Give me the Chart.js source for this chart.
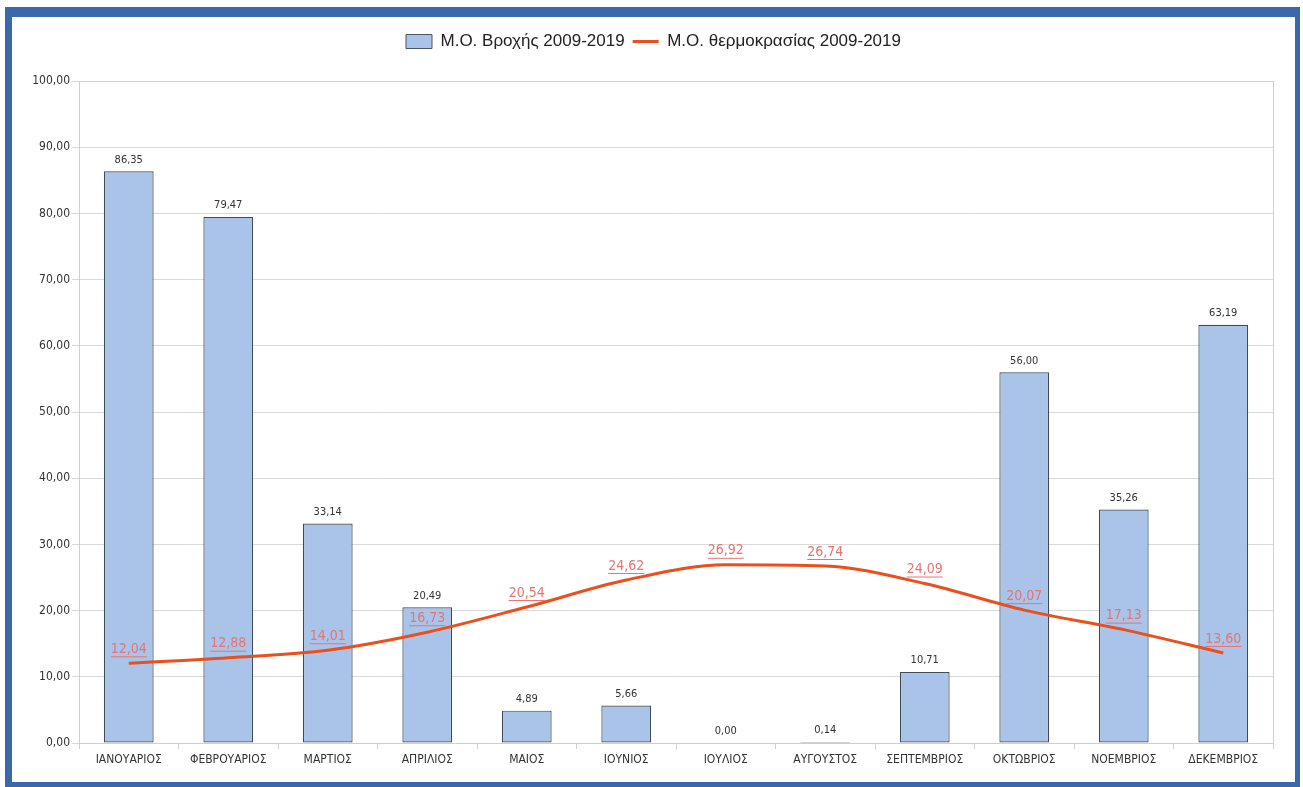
<!DOCTYPE html>
<html>
<head>
<meta charset="utf-8">
<script src="https://cdn.jsdelivr.net/npm/chart.js@4.4.1/dist/chart.umd.min.js"></script>
<style>
  html, body { margin: 0; padding: 0; background: #fff; }
  #frame {
    position: absolute; left: 5px; top: 7px;
    width: 1283px; height: 765px;
    border-style: solid; border-color: #3b68a9;
    border-width: 10px 5px 5px 7px;
    background: #fff;
  }
  #frame canvas { display: block; }
</style>
</head>
<body>
<div id="frame"><canvas id="mixChart" width="1283" height="765"></canvas></div>
<script>
  const months = ["ΙΑΝΟΥΑΡΙΟΣ", "ΦΕΒΡΟΥΑΡΙΟΣ", "ΜΑΡΤΙΟΣ", "ΑΠΡΙΛΙΟΣ", "ΜΑΙΟΣ", "ΙΟΥΝΙΟΣ",
                  "ΙΟΥΛΙΟΣ", "ΑΥΓΟΥΣΤΟΣ", "ΣΕΠΤΕΜΒΡΙΟΣ", "ΟΚΤΩΒΡΙΟΣ", "ΝΟΕΜΒΡΙΟΣ", "ΔΕΚΕΜΒΡΙΟΣ"];
  const rain = [86.35, 79.47, 33.14, 20.49, 4.89, 5.66, 0.00, 0.14, 10.71, 56.00, 35.26, 63.19];
  const temp = [12.04, 12.88, 14.01, 16.73, 20.54, 24.62, 26.92, 26.74, 24.09, 20.07, 17.13, 13.60];
  const rainLabel = "Μ.Ο. Βροχής 2009-2019";
  const tempLabel = "Μ.Ο. θερμοκρασίας 2009-2019";

  const narrow = '"Liberation Sans Narrow", "DejaVu Sans Condensed", sans-serif';

  function fmt(v){
    return v.toFixed(2).replace('.', ',');
  }

  // bigger gap under the legend
  const legendGap = {
    id: 'legendGap',
    beforeInit(chart){
      const fit = chart.legend.fit;
      chart.legend.fit = function(){
        fit.bind(chart.legend)();
        this.height += 21;
      };
    },
    afterLayout(chart){
      // center legend on the whole frame, not just left of the right padding
      chart.legend.left += 11;
      chart.legend.right += 11;
    }
  };

  // frame around plot area
  const plotBorder = {
    id: 'plotBorder',
    beforeDatasetsDraw(chart){
      const a = chart.chartArea, ctx = chart.ctx;
      ctx.save();
      ctx.strokeStyle = '#cfcfcf';
      ctx.lineWidth = 1;
      ctx.strokeRect(a.left + 0.5, a.top + 0.5, a.right - a.left, a.bottom - a.top);
      ctx.restore();
    }
  };

  // value labels
  const valueLabels = {
    id: 'valueLabels',
    afterDatasetsDraw(chart){
      const ctx = chart.ctx;
      ctx.save();
      ctx.textAlign = 'center';
      ctx.textBaseline = 'bottom';
      chart.data.datasets.forEach(function(ds, i){
        const meta = chart.getDatasetMeta(i);
        meta.data.forEach(function(el, j){
          const txt = fmt(ds.data[j]);
          if (ds.type === 'bar') {
            ctx.font = '11px ' + narrow;
            ctx.fillStyle = '#333';
            ctx.fillText(txt, el.x, el.y - 6);
          } else {
            ctx.font = '14px ' + narrow;
            ctx.fillStyle = '#e67474';
            const ty = el.y - 7;
            ctx.fillText(txt, el.x, ty);
            const w = ctx.measureText(txt).width;
            ctx.fillRect(el.x - w / 2, ty, w, 1);
          }
        });
      });
      ctx.restore();
    }
  };

  const ctx = document.getElementById('mixChart').getContext('2d');
  const chart = new Chart(ctx, {
    data: {
      labels: months,
      datasets: [{
        type: 'bar',
        label: rainLabel,
        data: rain,
        order: 1,
        backgroundColor: '#a9c4e8',
        borderColor: '#3f4a5a',
        borderWidth: 1.2,
        borderSkipped: false,
        categoryPercentage: 1,
        barPercentage: 0.5
      }, {
        type: 'line',
        label: tempLabel,
        data: temp,
        order: 0,
        borderColor: '#e8501e',
        backgroundColor: '#e8501e',
        borderWidth: 3,
        pointRadius: 0,
        cubicInterpolationMode: 'monotone'
      }]
    },
    options: {
      responsive: false,
      animation: false,
      layout: { padding: { left: 0, right: 22, top: 8, bottom: 0 } },
      plugins: {
        tooltip: { enabled: false },
        legend: {
          position: 'top',
          labels: {
            usePointStyle: true,
            pointStyleWidth: 26,
            boxHeight: 14,
            padding: 8,
            color: '#222',
            font: { size: 17, family: '"Liberation Sans", Arial, sans-serif' },
            sort: function(a, b){ return a.datasetIndex - b.datasetIndex; },
            generateLabels: function(chart){
              const items = Chart.defaults.plugins.legend.labels.generateLabels(chart);
              items.forEach(function(it){
                if (it.datasetIndex === 0) {
                  it.pointStyle = 'rect';
                  it.fillStyle = '#a9c4e8';
                  it.strokeStyle = '#4a5565';
                  it.lineWidth = 1;
                } else {
                  it.pointStyle = 'line';
                  it.strokeStyle = '#e8501e';
                  it.lineWidth = 3;
                }
              });
              return items;
            }
          }
        }
      },
      scales: {
        x: {
          offset: true,
          grid: { offset: true, drawOnChartArea: false, drawTicks: true, tickLength: 6, color: '#cfcfcf' },
          border: { color: '#cfcfcf' },
          ticks: { color: '#333', maxRotation: 0, autoSkip: false, padding: 4, font: { size: 12, family: narrow } },
          afterFit: function(scale){ scale.height = 39; }
        },
        y: {
          min: 0,
          max: 100,
          grid: { color: '#d9d9d9', tickLength: 7 },
          border: { color: '#cfcfcf' },
          ticks: {
            stepSize: 10,
            color: '#333',
            padding: 2,
            font: { size: 12, family: narrow },
            callback: function(v){ return fmt(v); }
          },
          afterFit: function(scale){ scale.width = 67; }
        }
      }
    },
    plugins: [legendGap, plotBorder, valueLabels]
  });
</script>
</body>
</html>
